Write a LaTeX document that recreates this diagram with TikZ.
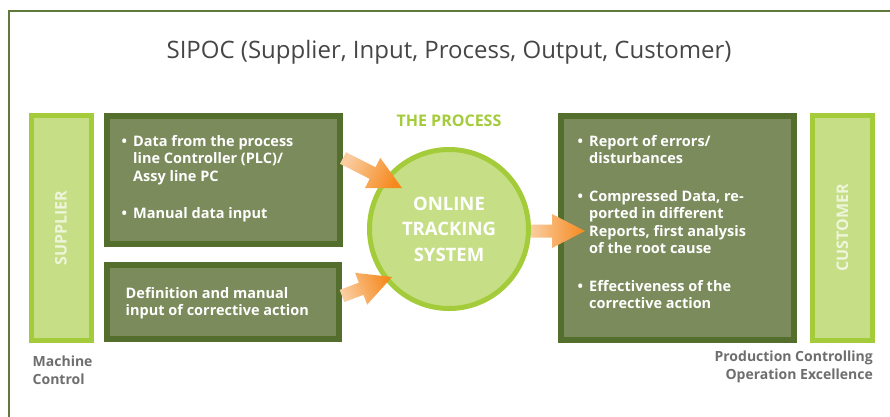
\documentclass[tikz,border=0pt]{standalone}
\usepackage{fontspec}
\setmainfont{Open Sans}
\usetikzlibrary{positioning,calc}

\definecolor{boxedge}{RGB}{84,110,45}
\definecolor{boxfill}{RGB}{123,139,92}
\definecolor{limeedge}{RGB}{164,204,58}
\definecolor{limefill}{RGB}{198,223,134}
\definecolor{limetext}{RGB}{238,245,218}
\definecolor{arroworange}{RGB}{245,137,30}
\definecolor{arrowpale}{RGB}{250,205,160}
\definecolor{framegreen}{RGB}{95,122,58}
\definecolor{labelgray}{RGB}{110,110,110}
\definecolor{titlegray}{RGB}{70,70,70}

\tikzset{
  inbox/.style={draw=boxedge, fill=boxfill, line width=6pt, inner sep=0pt},
  boxtext/.style={text=white, font=\bfseries\fontsize{14.5}{17.5}\selectfont, align=left, inner sep=0pt},
  limebar/.style={draw=limeedge, fill=limefill, line width=5pt, inner sep=0pt,
    minimum width=60pt, minimum height=225pt, text=limetext, font=\bfseries\fontsize{16}{19}\selectfont},
  procircle/.style={circle, draw=limeedge, fill=limefill, line width=5pt, inner sep=0pt,
    minimum size=159pt, text=white, align=center, font=\bfseries\fontsize{18.5}{25.5}\selectfont},
  sidelabel/.style={text=labelgray, font=\bfseries\fontsize{14}{17.5}\selectfont, inner sep=0pt},
}

\newcommand{\bul}{\makebox[11.5pt][l]{\textbullet}}
\newcommand{\ind}{\hspace*{11.5pt}}
% fat arrow with a pale tail: start, end, shading angle
\newcommand{\fatarrow}[3]{%
  \shade[left color=arrowpale, right color=arroworange, shading angle=#3]
    ($(#1)!6.5pt!90:(#2)$) -- ($(#2)!33pt!(#1)!6.5pt!-90:(#1)$)
    -- ($(#2)!33pt!(#1)!17pt!-90:(#1)$) -- (#2)
    -- ($(#2)!33pt!(#1)!17pt!90:(#1)$) -- ($(#2)!33pt!(#1)!6.5pt!90:(#1)$)
    -- ($(#1)!6.5pt!-90:(#2)$) -- cycle;}

\begin{document}
\begin{tikzpicture}[x=1pt, y=-1pt]
  % Fix the page
  \fill[white] (0,0) rectangle (890,416);
  \useasboundingbox (0,0) rectangle (890,416);

  % Draw the frame
  \draw[framegreen, line width=2.5pt] (892,11) -- (9,11) -- (9,418);

  % Draw the title
  \node[text=titlegray, font=\fontsize{24}{28}\selectfont] (title) at (449,52)
    {SIPOC (Supplier, Input, Process, Output, Customer)};

  % Draw the supplier and customer bars
  \node[limebar] (sup) at (61,228) {\rotatebox{90}{SUPPLIER}};
  \node[limebar] (cust) at (842.5,228) {\rotatebox{90}{CUSTOMER}};

  % Draw the input and output boxes
  \node[inbox, minimum width=233pt, minimum height=128pt] (in1) at (223.5,180) {};
  \node[inbox, minimum width=232pt, minimum height=74pt] (in2) at (223,302) {};
  \node[inbox, minimum width=233pt, minimum height=224pt] (out) at (677.5,228) {};

  % Draw the texts in the boxes
  \node[boxtext, anchor=north west] (in1txt) at (121.5,135)
    {\bul Data from the process\\ \ind line Controller (PLC)/\\ \ind Assy line PC\\[19.5pt]
     \bul Manual data input};
  \node[boxtext, anchor=north west] (in2txt) at (125.5,287)
    {Definition and manual\\input of corrective action};
  \node[boxtext, anchor=north west] (outtxt) at (577.5,135)
    {\bul Report of errors/\\ \ind disturbances\\[20pt]
     \bul Compressed Data, re-\\ \ind ported in different\\ \ind Reports, first analysis\\ \ind of the root cause\\[20pt]
     \bul Effectiveness of the\\ \ind corrective action};

  % Draw the process circle
  \node[procircle] (proc) at (449,229) {ONLINE\\TRACKING\\SYSTEM};
  \node[text=limeedge, font=\bfseries\fontsize{16}{19}\selectfont, inner sep=0pt,
    above=20pt of proc] (proclabel) {THE PROCESS};

  % Draw the labels below the bars
  \node[sidelabel, align=left, below right=13pt and 4pt of sup.south west] (suplabel)
    {Machine\\Control};
  \node[sidelabel, align=right, below left=8pt and 2pt of cust.south east] (custlabel)
    {Production Controlling\\Operation Excellence};

  % Draw the arrows
  \coordinate (a1s) at ($(in1.east)+(0,-22)$);
  \coordinate (a1e) at ($(proc.center)+(-47,-41)$);
  \coordinate (a2s) at ($(in2.east)+(0,-6)$);
  \coordinate (a2e) at ($(proc.center)+(-57,48)$);
  \coordinate (a3s) at ($(proc.east)+(0,2)$);
  \coordinate (a3e) at ($(out.west)+(27,3)$);
  \fatarrow{a1s}{a1e}{63}
  \fatarrow{a2s}{a2e}{111}
  \fatarrow{a3s}{a3e}{90}
\end{tikzpicture}
\end{document}
